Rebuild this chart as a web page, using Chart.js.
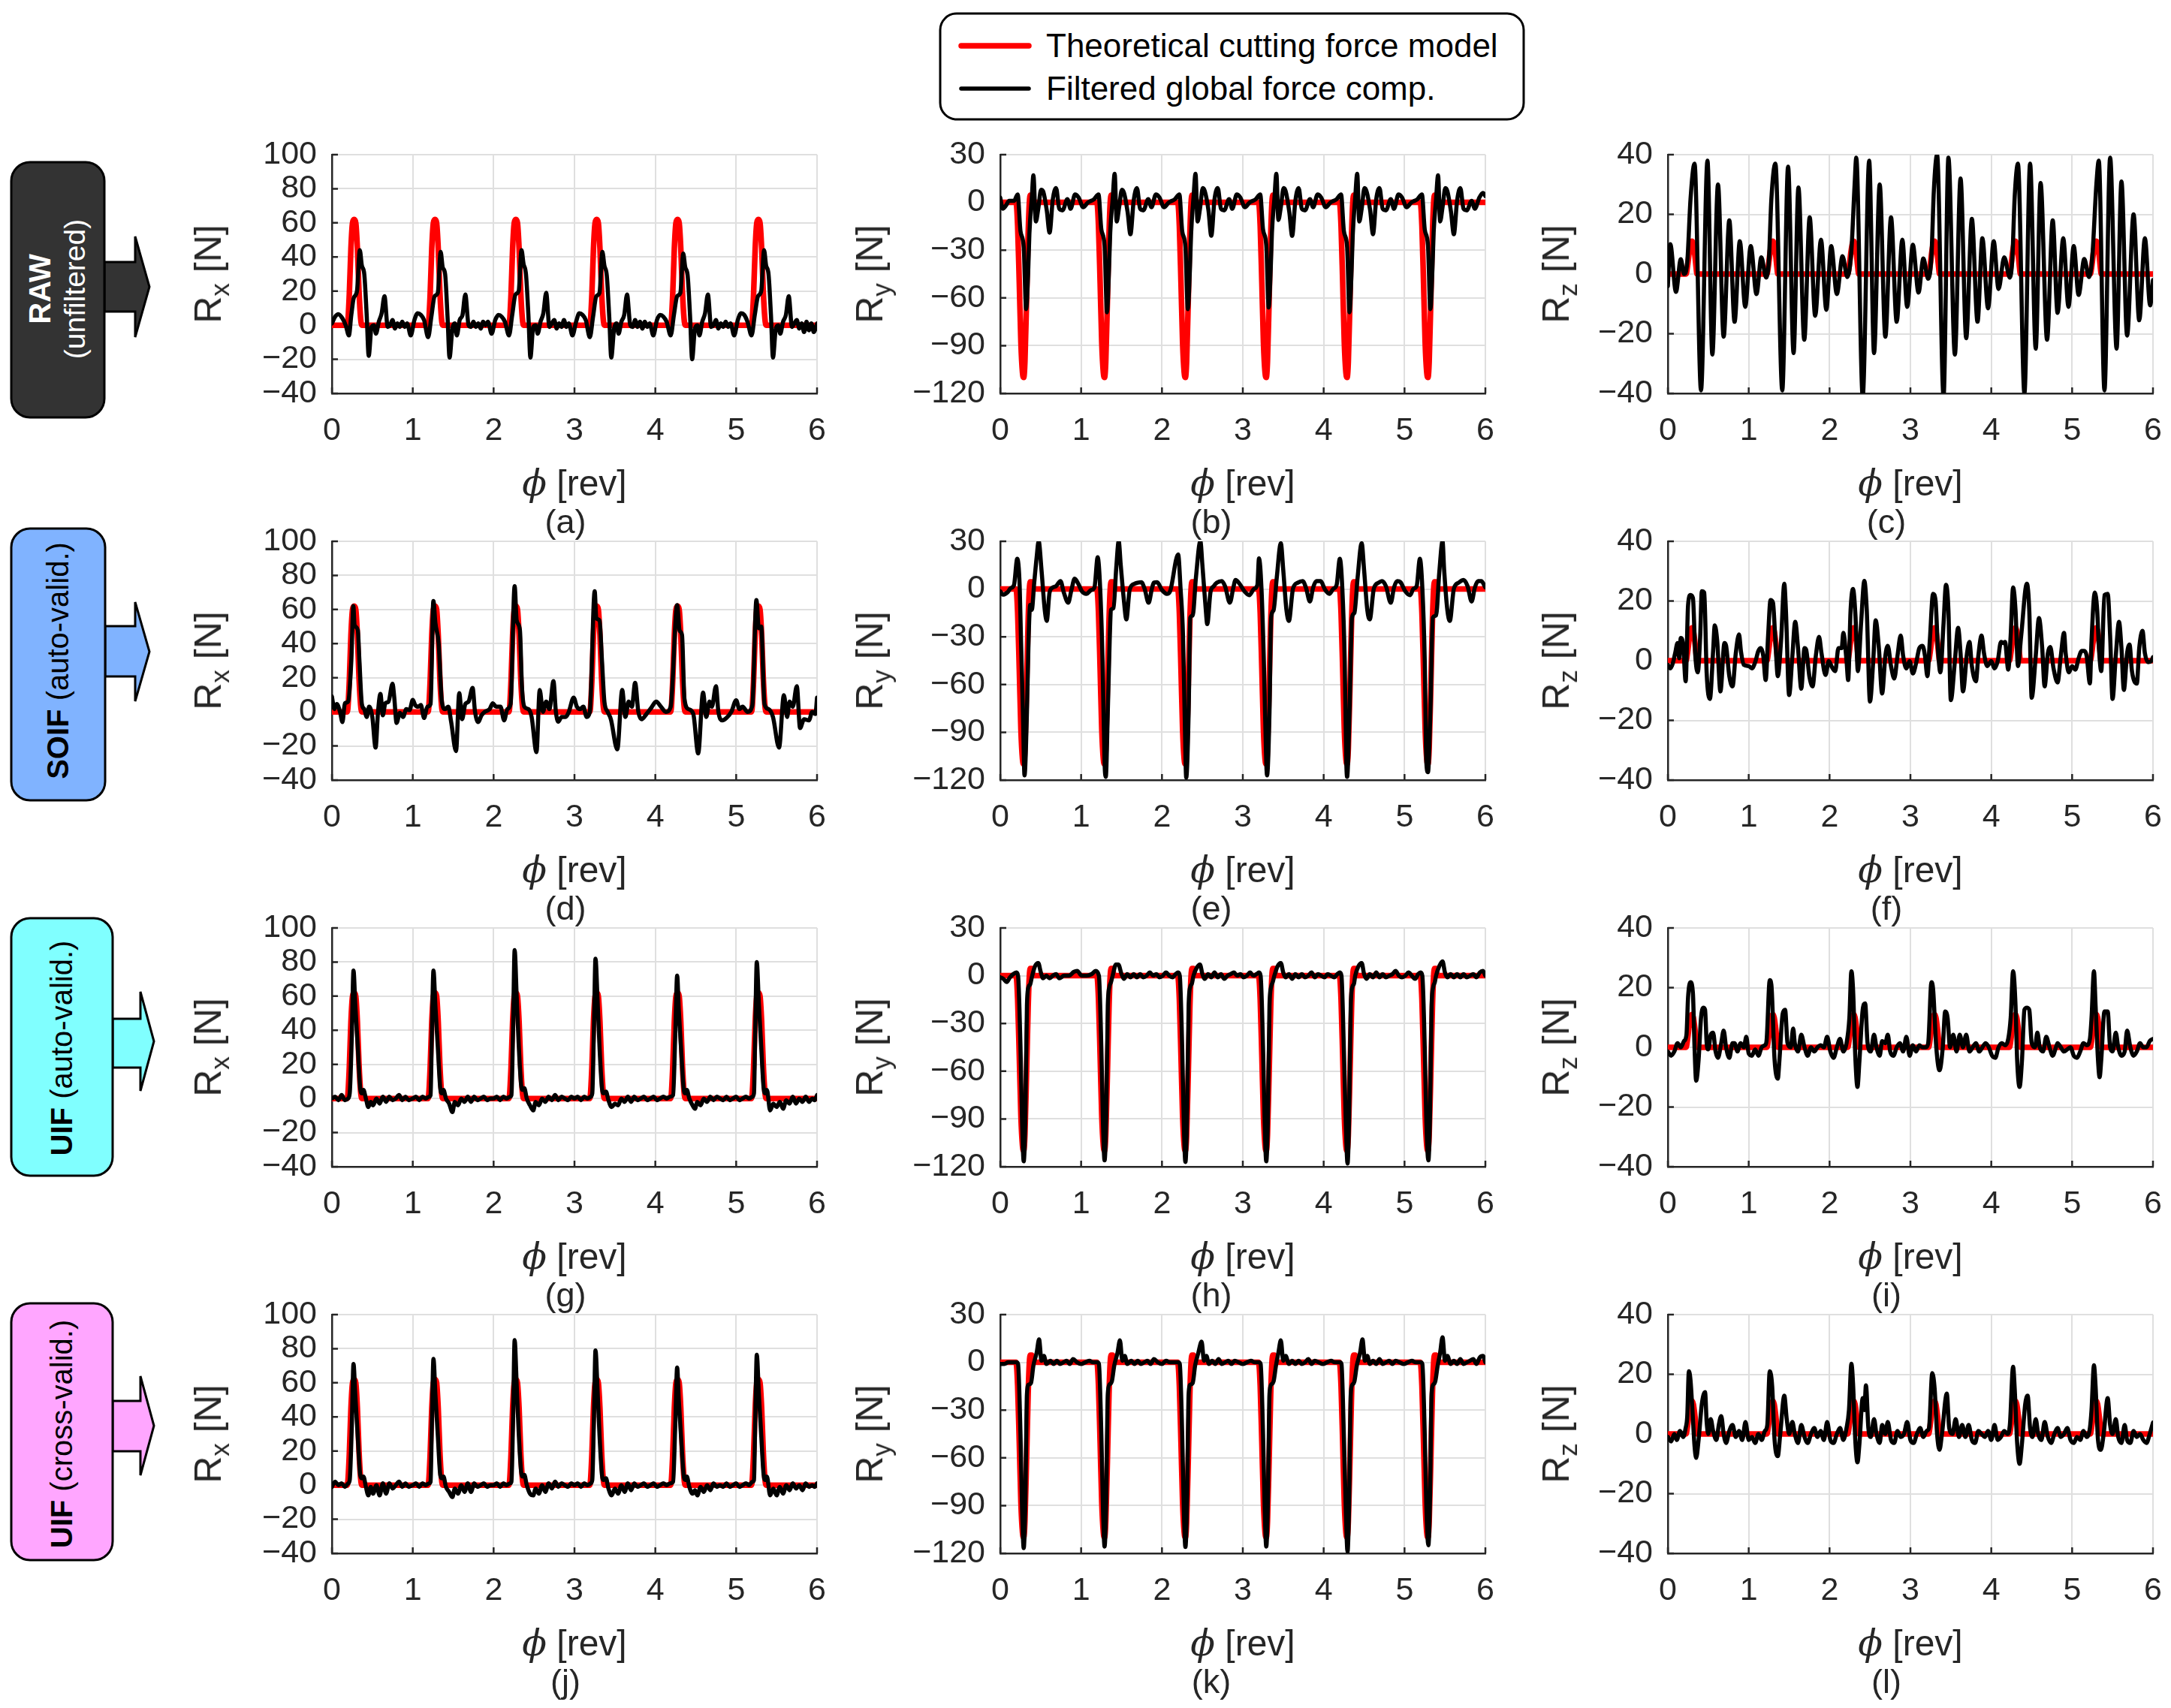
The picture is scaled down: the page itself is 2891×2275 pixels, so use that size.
<!DOCTYPE html>
<html><head><meta charset="utf-8">
<script src="https://cdn.jsdelivr.net/npm/chart.js@4.4.1/dist/chart.umd.min.js"></script>
<style>
html,body{margin:0;padding:0;background:#fff;overflow:hidden;}
#root{position:relative;width:2891px;height:2275px;overflow:hidden;font-family:"Liberation Sans",Arial,Helvetica,sans-serif;}
canvas{position:absolute;}
.t{position:absolute;white-space:nowrap;line-height:1;color:#262626;}
.sub{font-size:0.7em;position:relative;top:0.3em;}
</style></head>
<body><div id="root">
<svg id="shapes" width="2891" height="2275" style="position:absolute;left:0;top:0"></svg>
</div>
<script>
// ---------------- DATA ----------------
const xTicks = [0,1,2,3,4,5,6];
const rxTicks = [-40,-20,0,20,40,60,80,100];
const ryTicks = [-120,-90,-60,-30,0,30];
const rzTicks = [-40,-20,0,20,40];

const rowNames = ['RAW','SOIF','UIF','UIF'];
const rowNotes = ['(unfiltered)','(auto-valid.)','(auto-valid.)','(cross-valid.)'];
const panelLetters = ['(a)','(b)','(c)','(d)','(e)','(f)','(g)','(h)','(i)','(j)','(k)','(l)'];
const seriesNames = ['Theoretical cutting force model','Filtered global force comp.'];

// theoretical cutting force model (phi [rev], N)
const modelRx = [[0,0],
[0.19,0],[0.215,18],[0.235,45],[0.255,60],[0.275,62],[0.295,60],[0.315,45],[0.335,20],[0.355,4],[0.37,0],
[1.19,0],[1.215,18],[1.235,45],[1.255,60],[1.275,62],[1.295,60],[1.315,45],[1.335,20],[1.355,4],[1.37,0],
[2.19,0],[2.215,18],[2.235,45],[2.255,60],[2.275,62],[2.295,60],[2.315,45],[2.335,20],[2.355,4],[2.37,0],
[3.19,0],[3.215,18],[3.235,45],[3.255,60],[3.275,62],[3.295,60],[3.315,45],[3.335,20],[3.355,4],[3.37,0],
[4.19,0],[4.215,18],[4.235,45],[4.255,60],[4.275,62],[4.295,60],[4.315,45],[4.335,20],[4.355,4],[4.37,0],
[5.19,0],[5.215,18],[5.235,45],[5.255,60],[5.275,62],[5.295,60],[5.315,45],[5.335,20],[5.355,4],[5.37,0],[6,0]];
const modelRy = [[0,0],
[0.195,0],[0.215,-15],[0.235,-50],[0.255,-88],[0.275,-107],[0.29,-110],[0.305,-100],[0.325,-62],[0.345,-20],[0.36,0],[0.372,4.5],[0.39,4.5],[0.405,0],
[1.195,0],[1.215,-15],[1.235,-50],[1.255,-88],[1.275,-107],[1.29,-110],[1.305,-100],[1.325,-62],[1.345,-20],[1.36,0],[1.372,4.5],[1.39,4.5],[1.405,0],
[2.195,0],[2.215,-15],[2.235,-50],[2.255,-88],[2.275,-107],[2.29,-110],[2.305,-100],[2.325,-62],[2.345,-20],[2.36,0],[2.372,4.5],[2.39,4.5],[2.405,0],
[3.195,0],[3.215,-15],[3.235,-50],[3.255,-88],[3.275,-107],[3.29,-110],[3.305,-100],[3.325,-62],[3.345,-20],[3.36,0],[3.372,4.5],[3.39,4.5],[3.405,0],
[4.195,0],[4.215,-15],[4.235,-50],[4.255,-88],[4.275,-107],[4.29,-110],[4.305,-100],[4.325,-62],[4.345,-20],[4.36,0],[4.372,4.5],[4.39,4.5],[4.405,0],
[5.195,0],[5.215,-15],[5.235,-50],[5.255,-88],[5.275,-107],[5.29,-110],[5.305,-100],[5.325,-62],[5.345,-20],[5.36,0],[5.372,4.5],[5.39,4.5],[5.405,0],[6,0]];
const modelRz = [[0,0],
[0.225,0],[0.245,3],[0.265,7.5],[0.285,10.5],[0.3,11],[0.315,10],[0.335,6],[0.35,2],[0.36,0],
[1.225,0],[1.245,3],[1.265,7.5],[1.285,10.5],[1.3,11],[1.315,10],[1.335,6],[1.35,2],[1.36,0],
[2.225,0],[2.245,3],[2.265,7.5],[2.285,10.5],[2.3,11],[2.315,10],[2.335,6],[2.35,2],[2.36,0],
[3.225,0],[3.245,3],[3.265,7.5],[3.285,10.5],[3.3,11],[3.315,10],[3.335,6],[3.35,2],[3.36,0],
[4.225,0],[4.245,3],[4.265,7.5],[4.285,10.5],[4.3,11],[4.315,10],[4.335,6],[4.35,2],[4.36,0],
[5.225,0],[5.245,3],[5.265,7.5],[5.285,10.5],[5.3,11],[5.315,10],[5.335,6],[5.35,2],[5.36,0],[6,0]];

// filtered global force components (phi [rev], N)
const rawRx = [[0,1],[0.04,5],[0.08,6.5],[0.13,4],[0.17,0],[0.21,-6],[0.24,6],[0.27,16],[0.31,20],[0.345,44],[0.37,35],[0.4,30],[0.43,6],[0.455,-18],[0.49,-1],[0.52,0],[0.545,-5],[0.58,2],[0.615,7],[0.65,17],[0.69,-1],[0.72,0],[0.75,3],[0.78,-2],[0.81,1],[0.84,-1],[0.87,2],[0.9,-1],[0.93,1],[0.975,-6],
[1.02,3],[1.06,7],[1.1,6],[1.14,3],[1.19,-7],[1.23,5],[1.27,17],[1.31,19],[1.345,43],[1.37,34],[1.4,30],[1.43,5],[1.455,-19],[1.49,-2],[1.52,1],[1.545,-6],[1.58,3],[1.615,6],[1.65,18],[1.69,0],[1.72,-1],[1.75,2],[1.78,-1],[1.81,1],[1.84,-2],[1.87,2],[1.9,0],[1.93,2],[1.975,-5],
[2.02,3],[2.06,6],[2.1,5],[2.14,2],[2.19,-6],[2.23,6],[2.27,18],[2.31,20],[2.345,44],[2.37,36],[2.4,30],[2.43,6],[2.455,-19],[2.49,-1],[2.52,0],[2.545,-5],[2.58,2],[2.615,7],[2.65,19],[2.69,-1],[2.72,1],[2.75,3],[2.78,-2],[2.81,1],[2.84,-1],[2.87,3],[2.9,-1],[2.93,1],[2.975,-6],
[3.02,2],[3.06,7],[3.1,6],[3.14,3],[3.19,-7],[3.23,5],[3.27,17],[3.31,19],[3.345,43],[3.37,35],[3.4,29],[3.43,5],[3.455,-19],[3.49,-2],[3.52,1],[3.545,-5],[3.58,2],[3.615,6],[3.65,18],[3.69,0],[3.72,-1],[3.75,3],[3.78,-1],[3.81,2],[3.84,-2],[3.87,2],[3.9,-1],[3.93,1],[3.975,-6],
[4.02,3],[4.06,6],[4.1,5],[4.14,2],[4.19,-6],[4.23,6],[4.27,17],[4.31,19],[4.345,42],[4.37,34],[4.4,29],[4.43,5],[4.455,-20],[4.49,-2],[4.52,0],[4.545,-6],[4.58,2],[4.615,7],[4.65,18],[4.69,-1],[4.72,0],[4.75,3],[4.78,-2],[4.81,1],[4.84,-1],[4.87,2],[4.9,-1],[4.93,1],[4.975,-6],
[5.02,3],[5.06,7],[5.1,6],[5.14,2],[5.19,-6],[5.23,6],[5.27,17],[5.31,20],[5.345,44],[5.37,35],[5.4,30],[5.43,6],[5.455,-19],[5.49,-2],[5.52,0],[5.545,-5],[5.58,2],[5.615,6],[5.65,17],[5.69,-1],[5.72,1],[5.75,3],[5.78,-2],[5.81,1],[5.84,-4],[5.87,2],[5.9,-3],[5.93,1],[5.96,-4],[6,1]];

const rawRy = [[0,3],[0.03,-4],[0.07,-2],[0.11,1],[0.17,1],[0.215,5],[0.25,-18],[0.29,-28],[0.32,-67],[0.345,-44],[0.36,-20],[0.39,3],[0.41,17],[0.44,-12],[0.47,-4],[0.505,8],[0.53,7],[0.575,-5],[0.61,-19],[0.65,2],[0.69,9],[0.73,-4],[0.77,-5],[0.83,2],[0.87,-4],[0.925,5],[0.97,3],
[1.025,-3],[1.085,0],[1.16,2],[1.215,5],[1.25,-17],[1.29,-27],[1.32,-69],[1.345,-42],[1.36,-19],[1.39,2],[1.415,18],[1.44,-12],[1.47,-3],[1.505,8],[1.53,6],[1.575,-6],[1.61,-20],[1.65,1],[1.69,9],[1.73,-4],[1.77,-5],[1.83,2],[1.87,-3],[1.925,5],[1.97,3],
[2.025,-3],[2.085,0],[2.16,2],[2.215,5],[2.25,-18],[2.29,-28],[2.32,-67],[2.345,-43],[2.36,-20],[2.39,3],[2.415,18],[2.44,-12],[2.47,-4],[2.505,9],[2.53,7],[2.575,-5],[2.61,-21],[2.65,2],[2.69,9],[2.73,-4],[2.77,-5],[2.83,2],[2.87,-4],[2.925,5],[2.97,3],
[3.025,-3],[3.085,0],[3.16,2],[3.215,5],[3.25,-17],[3.29,-27],[3.32,-66],[3.345,-42],[3.36,-19],[3.39,2],[3.415,18],[3.44,-11],[3.47,-3],[3.505,9],[3.53,7],[3.575,-6],[3.61,-21],[3.65,1],[3.69,9],[3.73,-4],[3.77,-5],[3.83,2],[3.87,-3],[3.925,5],[3.97,3],
[4.025,-3],[4.085,0],[4.16,2],[4.215,5],[4.25,-18],[4.29,-28],[4.32,-69],[4.345,-43],[4.36,-20],[4.39,3],[4.415,18],[4.44,-12],[4.47,-4],[4.505,9],[4.53,7],[4.575,-5],[4.61,-20],[4.65,2],[4.69,9],[4.73,-4],[4.77,-5],[4.83,2],[4.87,-4],[4.925,5],[4.97,3],
[5.025,-3],[5.085,0],[5.16,2],[5.215,5],[5.25,-17],[5.29,-27],[5.32,-67],[5.345,-42],[5.36,-19],[5.39,2],[5.415,17],[5.44,-12],[5.47,-3],[5.505,9],[5.53,7],[5.575,-6],[5.61,-20],[5.65,1],[5.69,9],[5.73,-4],[5.77,-5],[5.83,1],[5.87,-4],[5.925,3],[5.97,6],[6,4]];

const rawRz = [[0,-4],[0.03,10],[0.1,-6],[0.16,5],[0.2,0],[0.24,4],[0.28,25],[0.33,37],[0.41,-39],[0.49,38],[0.55,-27],[0.62,30],[0.69,-21],[0.76,18],[0.825,-16],[0.89,11],[0.957,-11],
[1.025,9.4],[1.096,-6.7],[1.156,5.6],[1.216,-1.2],[1.25,5],[1.28,25],[1.33,37],[1.415,-39],[1.487,36],[1.555,-26.5],[1.615,29],[1.687,-22],[1.754,19],[1.822,-14],[1.894,11.5],[1.96,-12],
[2.02,9.4],[2.09,-6.7],[2.16,6],[2.22,-1],[2.27,8],[2.31,30],[2.33,39],[2.41,-41],[2.49,38],[2.55,-26.5],[2.62,30],[2.69,-21],[2.76,19],[2.83,-16],[2.9,11.5],[2.96,-11],
[3.03,9.8],[3.1,-6.2],[3.16,5.2],[3.22,-1.6],[3.26,6],[3.29,28],[3.33,40],[3.41,-41],[3.47,39],[3.55,-27],[3.62,32],[3.69,-21.5],[3.76,18.5],[3.83,-16],[3.89,12],[3.96,-11.5],
[4.03,11],[4.09,-5],[4.16,5.6],[4.23,-1.2],[4.26,5],[4.29,26],[4.33,37],[4.41,-40],[4.48,37],[4.55,-25],[4.61,30.5],[4.69,-22],[4.76,18],[4.82,-13],[4.89,12],[4.955,-11],
[5.02,9.4],[5.08,-7],[5.15,5],[5.21,-1],[5.25,6],[5.3,30],[5.33,38],[5.4,-39],[5.47,39],[5.55,-25],[5.61,31],[5.68,-20.6],[5.76,20],[5.83,-15.5],[5.9,12],[5.965,-10.5],[6,-2]];

const soifRx = [[0,9],[0.03,1.6],[0.06,4.6],[0.1,0],[0.13,-6],[0.16,5],[0.2,6],[0.24,30],[0.265,62],[0.28,51],[0.32,48],[0.34,30],[0.37,4.6],[0.4,1.6],[0.43,-3],[0.46,3],[0.5,-3],[0.54,-21],[0.57,0],[0.6,10.5],[0.63,-2],[0.66,5],[0.7,6],[0.75,16.5],[0.77,9],[0.8,-6.5],[0.84,-0.6],[0.88,-3],[0.92,1.6],[0.96,1],[1.0,7],[1.03,4],[1.065,3],[1.1,4],[1.14,-3.6],[1.18,3],[1.22,4.6],
[1.255,65],[1.28,52],[1.32,40],[1.36,6],[1.4,1.6],[1.44,3],[1.475,-6],[1.535,-23],[1.575,11],[1.61,-4.3],[1.65,4.6],[1.69,6],[1.74,14],[1.77,0],[1.81,-6],[1.85,-2],[1.89,0],[1.95,1.6],[1.99,5],[2.03,3],[2.085,3],[2.13,-5],[2.17,1.6],[2.21,4.6],
[2.26,73.7],[2.285,53.6],[2.325,48],[2.35,15],[2.38,3],[2.43,1.6],[2.47,-3],[2.53,-23.6],[2.57,12.8],[2.61,0],[2.65,6],[2.69,1.6],[2.74,18],[2.77,0],[2.8,-5.8],[2.84,-3],[2.89,-3],[2.93,0],[2.99,8.3],[3.03,3],[3.07,1.6],[3.11,3],[3.15,-3],[3.19,0],
[3.25,70.7],[3.27,55],[3.31,53.6],[3.34,30],[3.37,6],[3.41,0],[3.45,-4.3],[3.53,-22],[3.59,12.8],[3.63,-3],[3.67,6],[3.71,3],[3.75,17],[3.79,0],[3.83,-4.3],[3.89,-1.3],[3.95,2.4],[4.01,6],[4.07,3],[4.13,0],[4.19,3],
[4.27,62.6],[4.3,47.7],[4.33,45],[4.36,7.6],[4.41,1.6],[4.47,-1.3],[4.53,-24.4],[4.59,11.3],[4.63,-3],[4.67,6],[4.7,3],[4.75,15],[4.78,0],[4.83,-5],[4.88,-3.6],[4.94,0],[5.0,6.8],[5.04,1.6],[5.08,3],[5.14,0],[5.2,3.8],
[5.25,65.5],[5.28,49],[5.31,50],[5.35,4.6],[5.4,1.6],[5.455,-3],[5.53,-21],[5.59,9.8],[5.63,-3],[5.66,6],[5.7,3],[5.75,15],[5.79,-9.5],[5.84,-4.3],[5.9,-5],[5.94,0],[5.98,-1.3],[6,8.3]];

const soifRy = [[0,-1.4],[0.03,-3.5],[0.09,-2],[0.13,0.6],[0.17,2.5],[0.21,19],[0.24,1.8],[0.255,-29],[0.28,-77],[0.3,-117],[0.33,-77],[0.35,-32],[0.37,-10],[0.39,-13],[0.42,4],[0.45,20],[0.475,30],[0.51,12],[0.55,-13],[0.575,-20],[0.61,-2],[0.65,1],[0.69,1.8],[0.745,5],[0.785,-2],[0.84,-8.6],[0.88,-0.6],[0.92,6.5],[0.965,3.3],[1.01,-1.4],[1.065,-3],[1.125,-0.6],[1.165,1],
[1.205,20],[1.235,1],[1.265,-45],[1.29,-109],[1.305,-118],[1.33,-77],[1.355,-29],[1.37,-13],[1.4,-12],[1.435,13.7],[1.465,30],[1.49,15],[1.525,-5],[1.56,-19],[1.6,-0.6],[1.66,3.3],[1.7,4],[1.745,4.3],[1.785,0.2],[1.835,-8.6],[1.875,0.2],[1.9,4],[1.94,4.3],[2.0,-0.6],[2.06,-3],[2.1,-1.4],
[2.2,21.7],[2.23,0.2],[2.26,-29],[2.28,-77],[2.3,-118.5],[2.33,-77],[2.35,-18],[2.38,-16.6],[2.42,7.3],[2.475,30],[2.5,15],[2.54,-11.8],[2.56,-22],[2.6,-2],[2.64,1.8],[2.68,4],[2.74,5],[2.78,1.8],[2.84,-8.6],[2.88,0.2],[2.91,5.7],[2.96,3.3],[3.02,-1.4],[3.08,-3.8],[3.14,0.2],[3.18,2.5],
[3.2,19.3],[3.23,1],[3.26,-45],[3.29,-109],[3.3,-117],[3.33,-77],[3.35,-18],[3.38,-13.4],[3.42,7.3],[3.47,28.8],[3.5,12],[3.54,-13.4],[3.57,-20],[3.62,0.2],[3.68,4],[3.74,5],[3.78,1],[3.83,-7.8],[3.87,1],[3.91,5],[3.96,5],[4.02,-0.6],[4.07,-3],[4.12,0.2],[4.16,2.5],
[4.2,19],[4.23,1],[4.26,-45],[4.28,-109],[4.29,-118],[4.32,-77],[4.35,-18],[4.38,-15],[4.42,7.3],[4.47,28.8],[4.5,12],[4.54,-13.4],[4.57,-19],[4.62,0.2],[4.68,4],[4.72,5],[4.77,1.8],[4.83,-8.6],[4.87,1],[4.91,5],[4.95,4.3],[5.01,-1.4],[5.07,-3.8],[5.11,0.2],[5.15,1.8],
[5.19,19],[5.22,1],[5.25,-45],[5.27,-109],[5.29,-115],[5.32,-77],[5.35,-18],[5.39,-16.6],[5.43,10.5],[5.47,30],[5.49,12],[5.53,-13.4],[5.56,-20],[5.61,0.2],[5.67,4],[5.73,5.7],[5.78,1.8],[5.83,-7.8],[5.87,1],[5.91,5],[5.95,5],[6,1]];

const soifRz = [[0,-1.4],[0.03,-2.6],[0.06,-1],[0.09,2.5],[0.12,5.9],[0.14,0.8],[0.16,7.6],[0.19,5],[0.22,-6.9],[0.25,18.6],[0.28,22],[0.31,21],[0.34,1.6],[0.37,-3.9],[0.4,8.4],[0.42,23.3],[0.45,22.8],[0.48,-4.2],[0.52,-12.8],[0.56,3.3],[0.58,11.8],[0.61,6.7],[0.65,-10.3],[0.7,5.9],[0.72,5],[0.76,-5.2],[0.8,-8.6],[0.84,2.5],[0.88,8.8],[0.905,2.9],[0.94,-1.4],[1.0,-1.8],[1.04,-2.6],[1.08,-0.5],[1.12,3.3],[1.15,4.2],[1.18,1.6],[1.21,-6.5],
[1.24,8.4],[1.27,20.3],[1.3,19.4],[1.33,6.7],[1.36,-5.2],[1.4,6.7],[1.44,25.8],[1.46,16.9],[1.5,-11.5],[1.54,1.6],[1.575,13],[1.61,4.2],[1.65,-9.4],[1.69,4.2],[1.71,3.7],[1.75,-5.2],[1.79,-8.6],[1.83,1.6],[1.87,8],[1.9,2.5],[1.95,-4.8],[1.99,-0.1],[2.03,-2.2],[2.07,-3.5],[2.11,4.2],[2.15,4.2],[2.17,9.3],[2.21,-0.1],[2.23,-6.5],
[2.26,16.9],[2.29,24],[2.32,15.2],[2.35,-3.5],[2.39,12.6],[2.43,26.7],[2.46,16.9],[2.5,-13.7],[2.54,-0.1],[2.57,13.5],[2.61,4.2],[2.65,-11],[2.69,1.6],[2.72,5],[2.76,-1.8],[2.8,-6],[2.84,1.6],[2.88,8.4],[2.91,1.6],[2.95,-2.6],[2.99,-0.1],[3.03,-4.3],[3.07,-0.9],[3.11,4.2],[3.15,5],[3.18,1.6],[3.21,-5.2],
[3.24,6.7],[3.28,22.4],[3.31,20.3],[3.34,4.2],[3.37,-3.9],[3.41,12.6],[3.44,25.4],[3.47,16.9],[3.5,-13.2],[3.55,-0.1],[3.59,11],[3.62,2.5],[3.65,-10.3],[3.7,2.5],[3.73,6.3],[3.76,-1.8],[3.81,-6.9],[3.84,1.6],[3.88,8.4],[3.91,2.5],[3.95,-1.8],[4.0,-0.1],[4.04,-2.6],[4.08,-0.1],[4.12,6.3],[4.15,5.9],[4.17,6.3],[4.21,-3],
[4.24,8.4],[4.27,24.5],[4.3,16.9],[4.33,-1.8],[4.37,8.4],[4.44,25.8],[4.47,16.9],[4.5,-12.4],[4.55,1.6],[4.59,14.3],[4.63,4.2],[4.66,-8.6],[4.7,2.5],[4.73,4.6],[4.77,-2.6],[4.82,-7.3],[4.86,1.6],[4.9,9.3],[4.92,2.5],[4.96,-3.9],[5.0,-1.8],[5.04,-3],[5.08,0.8],[5.12,3.3],[5.15,3.3],[5.18,1.6],[5.22,-7.6],
[5.24,6.7],[5.28,22.8],[5.31,16.9],[5.33,5],[5.36,-3.5],[5.4,22],[5.44,22.4],[5.47,8.4],[5.5,-12.8],[5.54,1.6],[5.58,13],[5.61,4.2],[5.64,-9.8],[5.68,2.5],[5.71,5.4],[5.74,-3.5],[5.8,-7.7],[5.83,4.2],[5.87,10],[5.9,2.5],[5.94,-0.5],[5.98,-0.1],[6,1.2]];

const uifRx = [[0,0],[0.04,1],[0.08,-1],[0.12,2],[0.16,-1],[0.2,0],[0.22,3],[0.245,35],[0.267,75],[0.29,54],[0.32,30],[0.35,6],[0.37,3],[0.39,5],[0.42,0],[0.45,-5],[0.48,-2],[0.51,-4],[0.55,0],[0.59,-3],[0.63,1],[0.67,-2],[0.71,1],[0.75,-1],[0.79,0],[0.83,2],[0.87,-1],[0.91,1],[0.95,-1],[1.0,0],[1.04,1],[1.08,-1],[1.12,1],[1.16,0],[1.2,1],[1.22,2],
[1.235,35],[1.256,75],[1.28,54],[1.31,30],[1.34,6],[1.36,3],[1.38,5],[1.41,0],[1.45,-3],[1.49,-8],[1.52,-2],[1.56,-4],[1.6,0],[1.64,-2],[1.68,1],[1.72,-2],[1.76,1],[1.8,-1],[1.84,0],[1.88,1],[1.92,-1],[1.96,0],[2.0,0],[2.04,1],[2.08,-1],[2.12,1],[2.16,0],[2.2,1],[2.22,2],
[2.24,40],[2.26,87],[2.285,60],[2.31,32],[2.34,8],[2.36,5],[2.38,6],[2.41,0],[2.45,-4],[2.49,-7],[2.52,-2],[2.56,-4],[2.6,0],[2.64,-2],[2.68,1],[2.72,-1],[2.76,2],[2.8,-1],[2.84,1],[2.88,0],[2.92,-1],[2.96,1],[3.0,0],[3.04,1],[3.08,-1],[3.12,1],[3.16,0],[3.2,1],[3.22,3],
[3.24,40],[3.26,82],[3.285,58],[3.31,30],[3.34,6],[3.36,3],[3.39,4],[3.42,-1],[3.46,-5],[3.5,-3],[3.54,-4],[3.58,0],[3.62,-2],[3.66,1],[3.7,-2],[3.74,1],[3.78,-1],[3.82,0],[3.86,1],[3.9,-1],[3.94,0],[3.98,1],[4.02,-1],[4.06,0],[4.1,1],[4.14,0],[4.18,1],[4.22,2],
[4.245,35],[4.27,72],[4.29,52],[4.32,28],[4.35,6],[4.37,3],[4.39,5],[4.42,0],[4.46,-4],[4.49,-6],[4.52,-2],[4.56,-4],[4.6,0],[4.64,-2],[4.68,1],[4.72,-1],[4.76,1],[4.8,0],[4.84,-1],[4.88,1],[4.92,-1],[4.96,0],[5.0,1],[5.04,-1],[5.08,0],[5.12,1],[5.16,0],[5.2,1],[5.22,3],
[5.235,38],[5.255,80],[5.28,56],[5.31,30],[5.34,6],[5.36,3],[5.38,5],[5.42,-7],[5.46,-3],[5.5,-5],[5.54,-2],[5.58,-6],[5.62,-1],[5.66,-3],[5.7,1],[5.74,-3],[5.78,0],[5.82,-2],[5.86,1],[5.9,-2],[5.94,0],[5.97,-1],[6,2]];

const uifRy = [[0,-1],[0.04,-2],[0.08,-4],[0.12,-1],[0.16,1],[0.2,2],[0.22,0],[0.25,-45],[0.27,-92],[0.29,-116.6],[0.31,-90],[0.33,-19],[0.35,-7],[0.37,-5.5],[0.39,-1],[0.43,6],[0.47,8],[0.5,2.4],[0.53,-1.6],[0.57,0],[0.61,-1.6],[0.65,0],[0.69,1],[0.73,-1.6],[0.79,0],[0.85,0],[0.91,2.4],[0.95,3],[1.01,0],[1.07,0],[1.13,1],[1.18,3],
[1.22,0],[1.25,-45],[1.27,-92],[1.29,-116],[1.31,-90],[1.33,-19],[1.35,-7],[1.37,-4],[1.39,0],[1.43,7],[1.46,7],[1.5,1],[1.53,-2],[1.57,1],[1.61,-1],[1.65,1],[1.69,-1],[1.73,1],[1.77,-1],[1.81,0],[1.85,2],[1.89,0],[1.93,1],[1.97,-1],[2.01,0],[2.05,2],[2.09,0],[2.13,-1],[2.17,1],[2.2,2],
[2.22,0],[2.25,-45],[2.27,-93],[2.29,-117],[2.31,-90],[2.33,-19],[2.35,-7],[2.37,-5],[2.39,0],[2.43,5],[2.47,7],[2.5,1],[2.53,-2],[2.57,1],[2.61,-1],[2.65,2],[2.69,-1],[2.73,1],[2.77,-2],[2.81,0],[2.85,1],[2.89,2],[2.93,0],[2.97,1],[3.01,-1],[3.05,0],[3.09,2],[3.13,0],[3.17,1],[3.2,2],
[3.22,0],[3.25,-45],[3.27,-92],[3.29,-116.6],[3.31,-90],[3.33,-19],[3.35,-7],[3.37,-4],[3.39,0],[3.43,6],[3.47,8],[3.5,2],[3.53,-1],[3.57,1],[3.61,-2],[3.65,1],[3.69,-1],[3.73,1],[3.77,-1],[3.81,0],[3.85,2],[3.89,-1],[3.93,1],[3.97,0],[4.01,-1],[4.05,1],[4.09,0],[4.13,-1],[4.17,1],[4.2,2],
[4.22,0],[4.25,-47],[4.275,-95],[4.295,-118],[4.315,-88],[4.335,-19],[4.355,-7],[4.375,-5],[4.39,0],[4.43,6],[4.47,8],[4.5,1],[4.53,-2],[4.57,1],[4.61,-1],[4.65,2],[4.69,-1],[4.73,1],[4.77,-1],[4.81,0],[4.85,1],[4.89,3],[4.93,0],[4.97,-1],[5.01,0],[5.05,2],[5.09,0],[5.13,-2],[5.17,1],[5.2,2],
[5.22,0],[5.25,-45],[5.27,-92],[5.295,-116],[5.315,-88],[5.335,-19],[5.355,-7],[5.375,-4],[5.39,0],[5.43,6],[5.47,9],[5.5,2],[5.53,-1],[5.57,1],[5.61,-1],[5.65,1],[5.69,-1],[5.73,1],[5.77,-1],[5.81,0],[5.85,1],[5.89,-1],[5.93,2],[5.97,3],[6,0]];

const uifRz = [[0,-1.4],[0.04,-2.8],[0.08,-1.4],[0.12,1.4],[0.16,0],[0.2,2.1],[0.23,4.2],[0.25,16.8],[0.28,21.8],[0.31,18],[0.33,0],[0.35,-11.2],[0.38,-4.2],[0.41,9.8],[0.44,13.3],[0.46,12.6],[0.48,1.4],[0.5,-0.7],[0.53,4.2],[0.56,4.9],[0.59,-1.4],[0.62,-3.5],[0.66,1.4],[0.69,5.6],[0.72,0],[0.76,-3.5],[0.8,1.4],[0.825,1.4],[0.86,-1.4],[0.9,1.4],[0.94,0],[0.97,3.5],[1.0,-2.1],[1.04,-2.8],[1.08,-0.7],[1.12,-2.8],[1.16,0],[1.2,0.7],[1.22,2],
[1.26,22.5],[1.28,21],[1.32,-4.2],[1.36,-10.5],[1.38,-4.2],[1.42,11.2],[1.45,12.6],[1.48,1.4],[1.52,0],[1.55,6.3],[1.57,1.4],[1.61,-1.4],[1.65,4.2],[1.69,0],[1.73,-2.8],[1.77,0],[1.81,-1.4],[1.85,0],[1.89,0.7],[1.93,0],[1.97,3.5],[2.01,-1.4],[2.05,-3.5],[2.09,0],[2.13,2.8],[2.17,-1.4],[2.21,1.4],
[2.245,9.8],[2.27,25.5],[2.29,19.6],[2.32,-4.2],[2.345,-13.3],[2.37,-4.2],[2.41,12.6],[2.44,14.7],[2.47,1.4],[2.51,-1.4],[2.55,4.2],[2.58,0],[2.62,-2.8],[2.65,2.1],[2.69,1.4],[2.72,4.2],[2.75,-1.4],[2.79,-2.8],[2.83,0],[2.87,1.4],[2.91,-1.4],[2.95,3.5],[2.99,-2.8],[3.03,0.7],[3.07,-1.4],[3.11,0.7],[3.15,0],[3.19,0],[3.22,1.4],
[3.26,21.8],[3.28,19.6],[3.32,0],[3.36,-7.7],[3.4,0],[3.43,12],[3.46,9.8],[3.49,0],[3.53,4.2],[3.57,-1.4],[3.61,4.2],[3.65,0],[3.69,4.2],[3.73,-1.4],[3.77,0],[3.81,1.4],[3.85,-1.4],[3.89,0],[3.93,1.4],[3.97,0],[4.01,-2.8],[4.05,-3.5],[4.09,0],[4.13,1.4],[4.17,0.7],[4.21,2.8],
[4.24,9.8],[4.27,25.5],[4.3,14],[4.32,-4.2],[4.35,-13.3],[4.38,-4.2],[4.41,12.6],[4.44,13.3],[4.47,12.6],[4.5,1.4],[4.54,0],[4.57,4.9],[4.6,0],[4.64,-1.4],[4.68,3.5],[4.72,0],[4.76,-2.8],[4.8,0],[4.82,1.4],[4.86,0],[4.9,-1.4],[4.94,-0.7],[4.98,0],[5.02,-2.8],[5.06,-3.5],[5.1,-1.4],[5.14,1.4],[5.18,0.7],[5.22,2.8],
[5.24,9.8],[5.27,25.5],[5.29,14],[5.32,-4.2],[5.34,-10],[5.36,-4.2],[5.4,12],[5.44,12],[5.47,0],[5.5,-1.4],[5.54,4.9],[5.57,0],[5.61,-2.8],[5.65,-1.4],[5.68,5.6],[5.72,0],[5.76,-2.8],[5.8,-1.4],[5.84,1.4],[5.88,0],[5.92,0],[5.96,2.1],[6,2.8]];

const uifcRx = [[0,-1],[0.04,2],[0.08,0],[0.12,1],[0.16,-1],[0.2,1],[0.22,3],[0.245,33],[0.267,71],[0.29,52],[0.32,28],[0.35,6],[0.37,4],[0.39,5],[0.42,-1],[0.45,-6],[0.48,-1],[0.51,-5],[0.55,0],[0.59,-6],[0.63,1],[0.67,-5],[0.71,1],[0.75,-2],[0.79,0],[0.83,2],[0.87,-1],[0.91,1],[0.95,-1],[1.0,0],[1.04,1],[1.08,-1],[1.12,1],[1.16,0],[1.2,1],[1.22,2],
[1.235,33],[1.256,74],[1.28,53],[1.31,29],[1.34,6],[1.36,4],[1.38,5],[1.41,-1],[1.45,-4],[1.49,-7],[1.52,-2],[1.56,-5],[1.6,0],[1.64,-4],[1.68,1],[1.72,-4],[1.76,1],[1.8,-1],[1.84,0],[1.88,1],[1.92,-1],[1.96,0],[2.0,0],[2.04,1],[2.08,-1],[2.12,1],[2.16,0],[2.2,1],[2.22,2],
[2.24,38],[2.26,85],[2.285,59],[2.31,31],[2.34,8],[2.36,5],[2.38,6],[2.41,0],[2.45,-5],[2.49,-6],[2.52,-2],[2.56,-5],[2.6,0],[2.64,-4],[2.68,1],[2.72,-2],[2.76,2],[2.8,-1],[2.84,1],[2.88,0],[2.92,-1],[2.96,1],[3.0,0],[3.04,1],[3.08,-1],[3.12,1],[3.16,0],[3.2,1],[3.22,3],
[3.24,38],[3.26,79],[3.285,56],[3.31,29],[3.34,6],[3.36,3],[3.39,4],[3.42,-2],[3.46,-6],[3.5,-2],[3.54,-5],[3.58,0],[3.62,-4],[3.66,1],[3.7,-3],[3.74,1],[3.78,-1],[3.82,0],[3.86,1],[3.9,-1],[3.94,0],[3.98,1],[4.02,-1],[4.06,0],[4.1,1],[4.14,0],[4.18,1],[4.22,2],
[4.245,33],[4.27,69],[4.29,50],[4.32,27],[4.35,6],[4.37,3],[4.39,5],[4.42,-1],[4.46,-5],[4.49,-3],[4.52,-6],[4.56,-1],[4.6,-4],[4.64,0],[4.68,-3],[4.72,1],[4.76,-1],[4.8,0],[4.84,-1],[4.88,1],[4.92,-1],[4.96,0],[5.0,1],[5.04,-1],[5.08,0],[5.12,1],[5.16,0],[5.2,2],[5.22,3],
[5.235,36],[5.255,76.5],[5.28,54],[5.31,29],[5.34,6],[5.36,3],[5.38,5],[5.42,-6],[5.46,-2],[5.5,-6],[5.54,-1],[5.58,-5],[5.62,0],[5.66,-3],[5.7,1],[5.74,-2],[5.78,0],[5.82,-3],[5.86,1],[5.9,-1],[5.94,0],[5.97,-1],[6,1]];

const uifcRy = [[0,-1],[0.05,-1],[0.1,0],[0.15,0],[0.2,0],[0.22,-1],[0.25,-45],[0.27,-92],[0.29,-116.7],[0.31,-88],[0.33,-20],[0.35,-14],[0.38,-13],[0.41,-2],[0.45,6],[0.48,14.4],[0.51,1],[0.54,4],[0.57,-1],[0.62,1],[0.66,-1],[0.7,1],[0.74,-1],[0.78,0],[0.82,1],[0.86,-1],[0.9,2],[0.95,0],[1.0,-1],[1.05,0],[1.1,1],[1.15,0],[1.2,0],
[1.22,-1],[1.25,-45],[1.27,-91],[1.29,-115.7],[1.31,-88],[1.33,-20],[1.35,-14],[1.38,-12],[1.41,-2],[1.45,6],[1.48,13.8],[1.51,1],[1.54,4],[1.57,-1],[1.62,1],[1.66,-1],[1.7,1],[1.74,-1],[1.78,0],[1.82,1],[1.86,-1],[1.9,2],[1.95,0],[2.0,-1],[2.05,1],[2.1,0],[2.15,0],[2.2,0],
[2.22,-1],[2.25,-45],[2.27,-92],[2.29,-116],[2.31,-88],[2.33,-20],[2.35,-14],[2.38,-13],[2.41,-2],[2.45,6],[2.49,13],[2.52,1],[2.55,4],[2.58,-1],[2.62,1],[2.66,-1],[2.7,2],[2.74,-1],[2.78,0],[2.82,1],[2.86,-1],[2.9,1],[2.95,0],[3.0,-1],[3.05,0],[3.1,1],[3.15,0],[3.2,0],
[3.22,-1],[3.25,-45],[3.27,-91],[3.29,-115.7],[3.31,-88],[3.33,-20],[3.35,-14],[3.38,-12],[3.41,-2],[3.44,6],[3.47,13.8],[3.5,1],[3.53,4],[3.57,-1],[3.61,1],[3.65,-1],[3.69,1],[3.73,-1],[3.77,0],[3.81,2],[3.85,-1],[3.89,1],[3.94,0],[3.99,-1],[4.04,0],[4.09,1],[4.14,0],[4.2,0],
[4.22,-1],[4.25,-47],[4.275,-95],[4.295,-119],[4.315,-88],[4.335,-20],[4.355,-14],[4.38,-12],[4.41,-2],[4.45,6],[4.48,14.4],[4.51,1],[4.54,4],[4.57,-1],[4.61,1],[4.65,-1],[4.69,2],[4.73,-1],[4.77,0],[4.81,1],[4.85,-1],[4.89,1],[4.94,0],[4.99,-1],[5.04,0],[5.09,1],[5.14,0],[5.2,0],
[5.22,-1],[5.25,-45],[5.27,-91],[5.295,-114.9],[5.315,-86],[5.335,-20],[5.355,-14],[5.38,-12],[5.41,-2],[5.44,6],[5.47,15.7],[5.5,1],[5.53,4],[5.57,-1],[5.61,1],[5.65,-1],[5.69,2],[5.73,-1],[5.77,0],[5.81,1],[5.85,2],[5.89,-1],[5.93,3],[5.97,4],[6,0]];

const uifcRz = [[0,-1],[0.04,-2.5],[0.08,0],[0.11,-2],[0.15,1],[0.19,-1],[0.22,2],[0.24,6],[0.26,21],[0.28,18],[0.31,5],[0.33,-4],[0.35,-8],[0.38,-2],[0.42,10],[0.46,14],[0.48,4],[0.5,0],[0.53,5],[0.56,1],[0.6,-2],[0.63,3],[0.66,6],[0.69,0],[0.72,-3],[0.76,1],[0.8,3],[0.84,-1],[0.88,1],[0.92,-2],[0.96,4],[1.0,-2],[1.04,-1],[1.08,-3],[1.12,0],[1.16,-2],[1.2,1],[1.23,3],
[1.26,21],[1.29,16],[1.32,-2],[1.36,-7.4],[1.39,0],[1.44,12.8],[1.47,5],[1.5,0],[1.54,4],[1.57,0],[1.61,-3],[1.65,3],[1.69,-1],[1.73,-3],[1.77,0],[1.81,2],[1.85,-1],[1.89,1],[1.93,-2],[1.97,4],[2.01,-2],[2.05,-3],[2.09,0],[2.13,2],[2.17,-2],[2.21,2],
[2.24,8],[2.27,23.5],[2.29,17],[2.32,-3],[2.345,-9.5],[2.37,-3],[2.41,12],[2.43,8],[2.45,16.3],[2.48,2],[2.51,-1],[2.55,5],[2.58,0],[2.62,-3],[2.65,3],[2.69,0],[2.72,4],[2.76,-2],[2.8,-3],[2.84,1],[2.88,-1],[2.92,0],[2.96,4],[3.0,-2],[3.04,-3],[3.08,0],[3.12,2],[3.16,-1],[3.2,1],[3.23,2],
[3.27,20.4],[3.3,15],[3.33,0],[3.36,-5.3],[3.39,0],[3.45,13.5],[3.48,2],[3.52,0],[3.56,5],[3.6,-1],[3.64,3],[3.68,-1],[3.72,3],[3.76,-2],[3.8,-3],[3.84,1],[3.88,0],[3.92,-1],[3.96,1],[4.0,-2],[4.04,3],[4.08,-2],[4.12,-1],[4.16,1],[4.2,0],[4.23,3],
[4.27,22.5],[4.29,15],[4.32,-3],[4.35,-10],[4.38,-3],[4.42,10],[4.45,12.8],[4.48,2],[4.51,-1],[4.55,5],[4.58,0],[4.62,-2],[4.66,4],[4.7,-1],[4.74,-3],[4.78,0],[4.82,2],[4.86,-1],[4.9,0],[4.94,2],[4.98,-2],[5.02,-3],[5.06,-1],[5.1,-2],[5.14,1],[5.18,-1],[5.22,2],
[5.24,8],[5.27,23],[5.29,16],[5.32,-2],[5.355,-5.3],[5.39,0],[5.44,12],[5.47,3],[5.5,0],[5.54,5],[5.57,-1],[5.61,-3],[5.65,3],[5.68,-2],[5.72,-3],[5.76,1],[5.8,-1],[5.84,0],[5.88,-2],[5.92,-3],[5.96,0],[6,3.8]];

// ---------------- LAYOUT ----------------
const FONT = "'Liberation Sans', Arial, Helvetica, sans-serif";
const PW = 646, PH = 318;
const colLeft = [442, 1332, 2221];
const rowTop = [206, 721, 1236, 1751];
const PADL = 200, PADT = 30, PADR = 22, PADB = 100;
const yTitleOff = [165, 174, 149];
const letterOff = [-12, -42, -32];
const comps = ['x','y','z'];
const colTicks = [rxTicks, ryTicks, rzTicks];
const colModels = [modelRx, modelRy, modelRz];
const grid = [[rawRx, rawRy, rawRz],[soifRx, soifRy, soifRz],[uifRx, uifRy, uifRz],[uifcRx, uifcRy, uifcRz]];
const BLACK_W = 5.5, RED_W = 7.5;

const root = document.getElementById('root');
const fmt = v => (v < 0 ? '\u2212' + (-v) : String(v));
const toXY = a => a.map(p => ({x: p[0], y: p[1]}));

const inwardTicks = {
  id: 'inwardTicks',
  beforeDatasetsDraw(chart) {
    const {ctx, chartArea: a, scales: {x, y}} = chart;
    ctx.save(); ctx.strokeStyle = '#262626'; ctx.lineWidth = 2.5; ctx.beginPath();
    x.ticks.forEach(t => { const px = x.getPixelForValue(t.value); ctx.moveTo(px, a.bottom); ctx.lineTo(px, a.bottom - 8); });
    y.ticks.forEach(t => { const py = y.getPixelForValue(t.value); ctx.moveTo(a.left, py); ctx.lineTo(a.left + 8, py); });
    ctx.stroke(); ctx.restore();
  }
};

function addText(html, x, y, css, rot) {
  const d = document.createElement('div');
  d.className = 't';
  d.innerHTML = html;
  d.style.left = x + 'px'; d.style.top = y + 'px';
  d.style.transform = 'translate(-50%,-50%)' + (rot ? ' rotate(-90deg)' : '');
  Object.assign(d.style, css || {});
  root.appendChild(d);
  return d;
}

for (let r = 0; r < 4; r++) {
  for (let c = 0; c < 3; c++) {
    const cv = document.createElement('canvas');
    cv.width = PADL + PW + PADR; cv.height = PADT + PH + PADB;
    cv.style.left = (colLeft[c] - PADL) + 'px';
    cv.style.top = (rowTop[r] - PADT) + 'px';
    root.appendChild(cv);
    const tks = colTicks[c];
    new Chart(cv, {
      type: 'line',
      data: { datasets: [
        { label: seriesNames[1], data: toXY(grid[r][c]), borderColor: '#000000', borderWidth: BLACK_W,
          cubicInterpolationMode: 'monotone', pointRadius: 0, fill: false, order: 0,
          borderJoinStyle: 'round', borderCapStyle: 'round' },
        { label: seriesNames[0], data: toXY(colModels[c]), borderColor: '#ff0000', borderWidth: RED_W,
          cubicInterpolationMode: 'monotone', pointRadius: 0, fill: false, order: 1,
          borderJoinStyle: 'round', borderCapStyle: 'round' }
      ]},
      options: {
        responsive: false, animation: false, devicePixelRatio: 1,
        layout: { padding: { top: PADT, right: PADR, left: 0, bottom: 0 } },
        plugins: { legend: { display: false }, tooltip: { enabled: false } },
        events: [],
        scales: {
          x: { type: 'linear', min: 0, max: 6,
            afterBuildTicks: s => { s.ticks = xTicks.map(v => ({value: v})); },
            ticks: { autoSkip: false, maxRotation: 0, padding: 24, color: '#262626', font: { size: 43, family: FONT }, callback: fmt },
            grid: { color: '#dfdfdf', lineWidth: 2, drawTicks: false },
            border: { display: true, color: '#262626', width: 2.5 },
            afterFit: s => { s.height = PADB; s.paddingLeft = 0; s.paddingRight = 0; s.paddingTop = 0; s.paddingBottom = 0; }
          },
          y: { type: 'linear', min: tks[0], max: tks[tks.length - 1],
            afterBuildTicks: s => { s.ticks = tks.map(v => ({value: v})); },
            ticks: { autoSkip: false, padding: 20, color: '#262626', font: { size: 43, family: FONT }, callback: fmt },
            grid: { color: '#dfdfdf', lineWidth: 2, drawTicks: false },
            border: { display: true, color: '#262626', width: 2.5 },
            afterFit: s => { s.width = PADL; s.paddingLeft = 0; s.paddingRight = 0; s.paddingTop = 0; s.paddingBottom = 0; }
          }
        }
      },
      plugins: [inwardTicks]
    });
    const cx = colLeft[c] + PW / 2;
    addText('R<span class="sub">' + comps[c] + '</span> [N]', colLeft[c] - yTitleOff[c], rowTop[r] + PH / 2,
            { fontSize: '50px' }, true);
    addText('<span style="font-style:italic;font-family:\'DejaVu Serif\',serif">\u03d5</span> [rev]', cx, rowTop[r] + PH + 119,
            { fontSize: '48px' }, false);
    addText(panelLetters[r * 3 + c], cx + letterOff[c], rowTop[r] + PH + 170, { fontSize: '45px' }, false);
  }
}

// ---------------- SHAPES: legend box and row labels ----------------
const svgNS = 'http://www.w3.org/2000/svg';
const svg = document.getElementById('shapes');
function el(tag, attrs) { const e = document.createElementNS(svgNS, tag); for (const k in attrs) e.setAttribute(k, attrs[k]); svg.appendChild(e); return e; }

el('rect', {x: 1252, y: 18, width: 777, height: 141, rx: 22, ry: 22, fill: '#fff', stroke: '#000', 'stroke-width': 3});
el('line', {x1: 1280, y1: 61, x2: 1370, y2: 61, stroke: '#ff0000', 'stroke-width': RED_W, 'stroke-linecap': 'round'});
el('line', {x1: 1280, y1: 118, x2: 1370, y2: 118, stroke: '#000', 'stroke-width': BLACK_W, 'stroke-linecap': 'round'});
[61, 118].forEach((yy, i) => {
  const d = addText(seriesNames[i], 0, yy, { fontSize: '44px', color: '#000' }, false);
  d.style.left = '1393px'; d.style.transform = 'translate(0,-50%)';
});

const boxes = [
  {x: 15, y: 216, w: 124, h: 340, fill: '#333333', arrow: [[139,349],[180,349],[180,315],[199,382],[180,449],[180,415],[139,415]]},
  {x: 15, y: 704, w: 125, h: 362, fill: '#80b3ff', arrow: [[140,834],[180,834],[180,802],[199,868],[180,934],[180,901],[140,901]]},
  {x: 15, y: 1223, w: 135, h: 343, fill: '#80ffff', arrow: [[150,1357],[187,1357],[187,1321],[205,1387],[187,1453],[187,1422],[150,1422]]},
  {x: 15, y: 1736, w: 135, h: 342, fill: '#ffa6ff', arrow: [[150,1866],[187,1866],[187,1833],[205,1899],[187,1965],[187,1933],[150,1933]]}
];
boxes.forEach(b => {
  el('polygon', {points: b.arrow.map(p => p.join(',')).join(' '), fill: b.fill, stroke: '#000', 'stroke-width': 3, 'stroke-linejoin': 'miter'});
  el('rect', {x: b.x, y: b.y, width: b.w, height: b.h, rx: 25, ry: 25, fill: b.fill, stroke: '#000', 'stroke-width': 3});
});
// row label texts
addText('<b>' + rowNames[0] + '</b>', 53, 385, { fontSize: '40px', color: '#fff' }, true);
addText(rowNotes[0], 99, 385, { fontSize: '39px', color: '#fff' }, true);
addText('<b>' + rowNames[1] + '</b> ' + rowNotes[1], 77, 880, { fontSize: '40px', color: '#000' }, true);
addText('<b>' + rowNames[2] + '</b> ' + rowNotes[2], 82, 1396, { fontSize: '40px', color: '#000' }, true);
addText('<b>' + rowNames[3] + '</b> ' + rowNotes[3], 82, 1910, { fontSize: '40px', color: '#000' }, true);
</script>
</body></html>
